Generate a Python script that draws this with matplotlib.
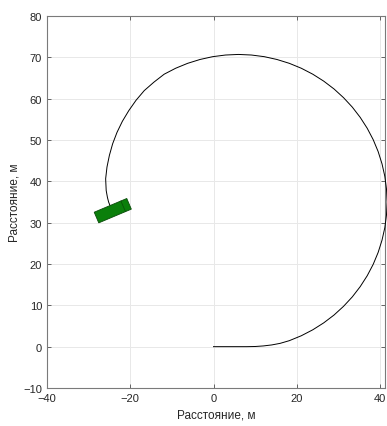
import numpy as np
import matplotlib
matplotlib.use("Agg")
import matplotlib.pyplot as plt
from matplotlib.patches import Polygon

# Path of the vehicle (metres)
path_x = [0, 4, 8, 10, 12, 14, 16, 18.21, 21.09, 23.85, 26.48, 28.95, 31.24, 33.35,
          35.24, 36.92, 38.36, 39.55, 40.48, 41.16, 41.56, 41.7, 41.56, 41.16, 40.48,
          39.55, 38.36, 36.92, 35.24, 33.35, 31.24, 28.95, 26.48, 23.85, 21.09, 18.21,
          15.24, 12.2, 9.11, 6.0, 2.89, -0.2, -3.24, -6.21, -9.09, -11.85, -14.31,
          -16.63, -18.61, -20.35, -21.89, -23.18, -24.23, -25.01, -25.59, -25.91,
          -25.78, -25.48, -25.2, -24.78]
path_y = [0, 0, 0, 0.04, 0.18, 0.42, 0.8, 1.45, 2.64, 4.08, 5.76, 7.65, 9.76, 12.05,
          14.52, 17.15, 19.91, 22.79, 25.76, 28.8, 31.89, 35.0, 38.11, 41.2, 44.24,
          47.21, 50.09, 52.85, 55.48, 57.95, 60.24, 62.35, 64.24, 65.92, 67.36, 68.55,
          69.48, 70.16, 70.56, 70.7, 70.56, 70.16, 69.48, 68.55, 67.36, 65.92, 64.0,
          61.96, 59.61, 57.11, 54.53, 51.85, 49.09, 46.29, 43.46, 40.62, 37.78, 36.1,
          35.0, 33.92]

# Vehicle pose
car_center = (-24.2, 32.9)
car_length = 8.5
car_width = 2.8
car_angle_deg = 23.0

xticks = [-40, -20, 0, 20, 40]
yticks = [-10, 0, 10, 20, 30, 40, 50, 60, 70, 80]
xlabel = "Расстояние, м"
ylabel = "Расстояние, м"

plt.rcParams['font.family'] = ['Liberation Sans', 'DejaVu Sans']

fig = plt.figure(figsize=(3.87, 4.27), dpi=100)
ax = fig.add_axes([47/387, 1-389/427, 338/387, 372/427])

ax.plot(path_x, path_y, color='black', lw=0.7, zorder=3, clip_on=False)

# car rectangle
a = np.deg2rad(car_angle_deg)
u = np.array([np.cos(a), np.sin(a)])
v = np.array([-np.sin(a), np.cos(a)])
c = np.array(car_center)
hl, hw = car_length / 2, car_width / 2
corners = [c - hl*u - hw*v, c + hl*u - hw*v, c + hl*u + hw*v, c - hl*u + hw*v]
ax.add_patch(Polygon(corners, closed=True, facecolor='#0b7f0b', edgecolor='#0a4a0a',
                     lw=0.6, zorder=4))
cab = 0.32 * car_length
p1 = c + cab*u - hw*v
p2 = c + cab*u + hw*v
ax.plot([p1[0], p2[0]], [p1[1], p2[1]], color='#0a4a0a', lw=0.5, zorder=5)

ax.set_xlim(-40, 41.2)
ax.set_ylim(-10, 80)
ax.set_xticks(xticks)
ax.set_yticks(yticks)
ax.grid(True, color='#e8e8e8', lw=0.7)
ax.set_axisbelow(True)
for s in ax.spines.values():
    s.set_color('#7a7a7a')
    s.set_linewidth(0.8)
ax.tick_params(direction='in', length=3, width=0.6, color='#4d4d4d',
               labelsize=8, labelcolor='#262626', top=True, right=True)
ax.set_xlabel(xlabel, fontsize=8.5, color='#262626', labelpad=4)
ax.set_ylabel(ylabel, fontsize=8.5, color='#262626', labelpad=2)

fig.savefig("out.png", dpi=100)
